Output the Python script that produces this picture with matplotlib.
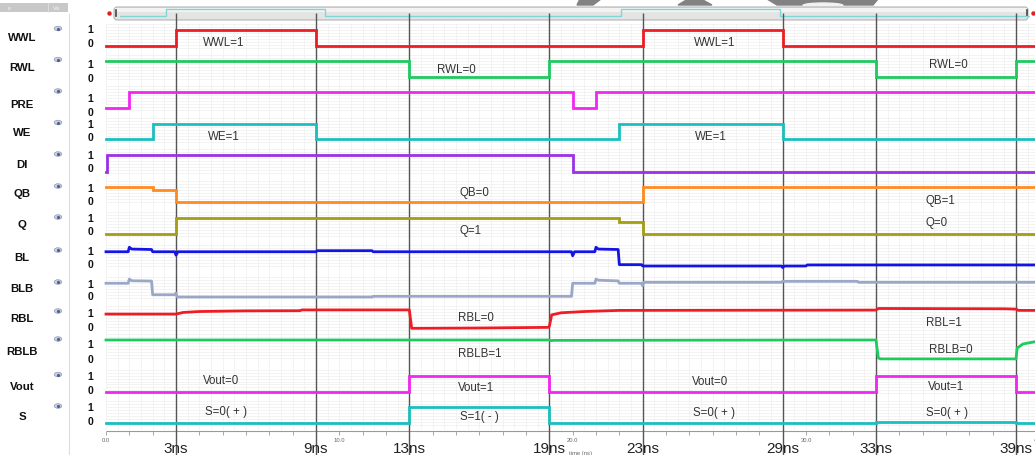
import numpy as np
import matplotlib.pyplot as plt
from matplotlib.patches import Rectangle, FancyBboxPatch, Polygon, Ellipse

plt.rcParams['font.family'] = ['Liberation Sans', 'DejaVu Sans']

# signal names, top to bottom
signals = ['WWL', 'RWL', 'PRE', 'WE', 'DI', 'QB', 'Q', 'BL', 'BLB', 'RBL', 'RBLB', 'Vout', 'S']

# digital waveforms: switching times (ns) and level after each switch
wwl_t = [0, 3, 9, 23, 29]
wwl_v = [0, 1, 0, 1, 0]
rwl_t = [0, 13, 19, 33, 39]
rwl_v = [1, 0, 1, 0, 1]
pre_t = [0, 1, 20, 21]
pre_v = [0, 1, 0, 1]
we_t = [0, 2, 9, 22, 29]
we_v = [0, 1, 0, 1, 0]
di_t = [0, 0.03, 20]
di_v = [0, 1, 0]
qb_t = [0, 2, 3, 23]
qb_v = [1, 0.8, 0, 1]
q_t = [0, 3, 22, 23]
q_v = [0, 1, 0.75, 0]
vout_t = [0, 13, 19, 33, 39]
vout_v = [0, 1, 0, 1, 0]
s_t = [0, 13, 19, 33, 39]
s_v = [0, 1, 0, 0.06, 0]

# analog traces (ns, normalised level)
bl_t = [0, 0.95, 1.0, 1.1, 1.95, 2.0, 2.95, 3.0, 3.08, 9.0, 9.05, 11.4, 11.45, 19.95, 20.0, 20.08,
        20.95, 21.0, 21.1, 21.95, 22.0, 22.95, 23.0, 28.95, 29.0, 29.08, 30.0, 30.05, 39.8]
bl_v = [0.95, 0.95, 1.25, 1.13, 1.1, 0.95, 0.95, 0.72, 0.95, 0.95, 1.02, 1.02, 0.95, 0.95, 0.68, 0.95,
        0.95, 1.25, 1.13, 1.1, 0.09, 0.09, 0.0, 0.0, -0.1, 0.0, 0.0, 0.07, 0.07]
blb_t = [0, 0.95, 1.0, 1.1, 1.95, 2.0, 2.95, 3.0, 3.05, 11.4, 11.45, 19.95, 20.0, 20.95, 21.0, 21.1,
         21.95, 22.0, 22.95, 23.0, 23.05, 28.95, 29.0, 32.2, 32.25, 39.8]
blb_v = [0.98, 0.98, 1.28, 1.16, 1.14, 0.16, 0.16, 0.28, 0.0, 0.0, 0.05, 0.05, 0.98, 0.98, 1.28, 1.2,
         1.15, 0.98, 0.98, 0.8, 1.05, 1.05, 1.12, 1.12, 1.05, 1.05]
rbl_t = [0, 3.0, 3.3, 4.0, 6.0, 8.3, 8.4, 13.0, 13.1, 16.0, 18.95, 19.0, 19.1, 19.5, 20.5, 22.0,
         33.0, 33.1, 38.5, 39.0, 39.1, 39.8]
rbl_v = [0.87, 0.87, 0.97, 1.03, 1.07, 1.08, 1.13, 1.13, -0.02, 0.0, 0.04, 0.1, 0.82, 0.95, 1.03, 1.1,
         1.12, 1.22, 1.2, 1.18, 1.1, 1.1]
rblb_t = [0, 19.0, 19.05, 19.2, 31.0, 33.0, 33.1, 33.2, 39.0, 39.05, 39.3, 39.8]
rblb_v = [1.0, 1.0, 0.96, 0.98, 1.0, 1.0, 0.0, -0.05, -0.05, 0.55, 0.78, 0.9]

waves = [(wwl_t, wwl_v, 'step'), (rwl_t, rwl_v, 'step'), (pre_t, pre_v, 'step'), (we_t, we_v, 'step'),
         (di_t, di_v, 'step'), (qb_t, qb_v, 'step'), (q_t, q_v, 'step'), (bl_t, bl_v, 'line'),
         (blb_t, blb_v, 'line'), (rbl_t, rbl_v, 'line'), (rblb_t, rblb_v, 'line'),
         (vout_t, vout_v, 'step'), (s_t, s_v, 'step')]

colors = ['#ee1c25', '#1ecb5f', '#f126f1', '#1bbfbf', '#9b30e6', '#ff8a1f', '#a39e12',
          '#1414e6', '#9aa7c7', '#ee1c25', '#1ecb5f', '#f126f1', '#1bbfbf']

# cursor times
cursor_t = [3, 9, 13, 19, 23, 29, 33, 39]
cursor_lbl = ['3ns', '9ns', '13ns', '19ns', '23ns', '29ns', '33ns', '39ns']

# state notes
notes = ['WWL=1', 'WWL=1', 'RWL=0', 'RWL=0', 'WE=1', 'WE=1', 'QB=0', 'QB=1', 'Q=1', 'Q=0',
         'RBL=0', 'RBL=1', 'RBLB=1', 'RBLB=0', 'Vout=0', 'Vout=1', 'Vout=0', 'Vout=1',
         'S=0( + )', 'S=1( - )', 'S=0( + )', 'S=0( + )']
note_x = [5.06, 26.1, 15.0, 36.1, 5.06, 25.9, 15.8, 35.75, 15.6, 35.6,
          15.86, 35.9, 16.0, 36.2, 4.93, 15.86, 25.9, 36.0,
          5.14, 16.0, 26.06, 36.05]
note_y = [43, 43, 70, 65, 137, 137, 193, 201, 231, 223,
          318, 323, 354, 350, 381, 388, 382, 387,
          412, 417, 413, 413]

# layout (pixels)
W, H = 1035, 456
x0 = 106
ppn = 910 / 39.0
t_end = (W - x0) / ppn
row_hi = [30.5, 61.5, 93, 124.5, 156, 188, 219, 252, 284, 313, 341, 376.5, 408]
row_lo = [46.5, 78, 109, 140, 172.5, 203, 235, 267, 298, 329, 359, 393, 424]
lab_y = [38, 68, 105, 133, 165, 194, 225, 258, 289, 319, 352, 387, 417]
one_y = [30, 65, 99, 125, 156, 189, 219, 252, 285, 314, 345, 377, 408]
zero_y = [44, 79, 113, 138, 169, 202, 232, 265, 297, 328, 360, 391, 422]

fig = plt.figure(figsize=(W / 100, H / 100), dpi=100)

# decoration layer in pixel units
deco = fig.add_axes([0, 0, 1, 1])
deco.set_xlim(0, W)
deco.set_ylim(H, 0)
deco.axis('off')

# header of the name column
deco.add_patch(Rectangle((0, 4), 68, 9, facecolor='#c8c8c8', edgecolor='none'))
deco.plot([48, 48], [4, 13], color='#e0e0e0', lw=0.6)
deco.text(8, 8.5, 'e', fontsize=4, color='#f2f2f2', va='center')
deco.text(53, 8.5, 'Vis', fontsize=4, color='#f2f2f2', va='center')
deco.plot([69, 69], [15, H], color='#dcdcdc', lw=0.8)

# watermark remnants
deco.add_patch(Polygon([(580, 0), (601, 0), (593, 6), (577, 6)], closed=True, color='#828282'))
deco.add_patch(Polygon([(688, 0), (701, 0), (712, 6), (678, 6)], closed=True, color='#828282'))
deco.add_patch(Polygon([(767, 0), (878, 0), (873, 6), (777, 6)], closed=True, color='#828282'))
deco.add_patch(Ellipse((823, 6.5), 40, 5, color='#f2f2f2'))

# scroll bar
deco.add_patch(FancyBboxPatch((114, 8), 914, 13, boxstyle='round,pad=0,rounding_size=3',
                              facecolor='#e4e4e4', edgecolor='#b4b4b4', lw=0.8))
deco.add_patch(Rectangle((115, 9), 912, 4, facecolor='#f3f3f3', edgecolor='none'))
deco.plot([109], [14], marker='o', ms=2.2, color='#e02020')
deco.plot([116, 116], [11, 17], color='#444444', lw=1.2)
deco.plot([1027, 1027], [11, 17], color='#444444', lw=1.2)
deco.plot([1033], [14], marker='o', ms=2.2, color='#e02020')

# scroll overview of WE
sc = fig.add_axes([120 / W, 1 - 21 / H, 910 / W, 14 / H])
sc.set_xlim(0, 40)
sc.set_ylim(-0.571, 1.43)
sc.axis('off')
sc.step(we_t + [40], we_v + [we_v[-1]], where='post', color='#7fd6d6', lw=1.0)

# main axes: x in ns, y in pixels
ax = fig.add_axes([0, 0, 1, 1])
ax.set_xlim(-x0 / ppn, t_end)
ax.set_ylim(H, 0)
ax.axis('off')
ax.patch.set_alpha(0)

# faint grid
ax.vlines(np.arange(0, 40, 0.5), 24, 430, color='#eeeeee', lw=0.5, zorder=0)
for hi, lo in zip(row_hi, row_lo):
    ax.hlines(np.arange(hi - 6, lo + 3, 3), 0, t_end, color='#efefef', lw=0.5, zorder=0)

# time axis
ax.hlines(432, 0, t_end, color='#9a9a9a', lw=0.8)
ax.vlines(np.arange(0, 40, 1), 432, 436, color='#9a9a9a', lw=0.6)
for v in [0, 10, 20, 30, 40]:
    ax.text(v, 441, f'{v:.1f}', fontsize=4.2, color='#666666', ha='center', va='center')
ax.text(20.35, 454, 'time (ns)', fontsize=4.2, color='#666666', ha='center', va='center')

# cursors
ax.vlines(cursor_t, 14, H, color='#555555', lw=1.0, zorder=2)
for t, s in zip(cursor_t, cursor_lbl):
    ax.text(t, 449, s, fontsize=11, color='#222222', ha='center', va='center')

# notes
for s, x, y in zip(notes, note_x, note_y):
    ax.text(x, y, s, fontsize=8.3, color='#333333', ha='center', va='center', zorder=4)

# left column: names, eye icons, 1/0
for i, name in enumerate(signals):
    deco.text(22, lab_y[i], name, fontsize=8.2, fontweight='bold', color='#111111',
              ha='center', va='center')
    deco.add_patch(Ellipse((58, row_hi[i] - 1), 7.5, 4.5, facecolor='#c9d0e2', edgecolor='#8d98b8', lw=0.5))
    deco.plot([58], [row_hi[i] - 1], marker='o', ms=1.3, color='#55608a')
    deco.text(90, one_y[i], '1', fontsize=7.5, fontweight='bold', color='#111111', ha='center', va='center')
    deco.text(90, zero_y[i], '0', fontsize=7.5, fontweight='bold', color='#111111', ha='center', va='center')

# one small axes per signal row, level 0 at the low line and 1 at the high line
for i, (t, v, kind) in enumerate(waves):
    hi, lo = row_hi[i], row_lo[i]
    span = lo - hi
    pad = 9
    rax = fig.add_axes([0, 1 - (lo + pad) / H, 1, (span + 2 * pad) / H], zorder=3)
    rax.set_xlim(-x0 / ppn, t_end)
    rax.set_ylim(-pad / span, 1 + pad / span)
    rax.axis('off')
    rax.patch.set_alpha(0)
    if kind == 'step':
        rax.step(list(t) + [t_end], list(v) + [v[-1]], where='post', color=colors[i], lw=2.0,
                 solid_joinstyle='miter')
    else:
        rax.plot(t, v, color=colors[i], lw=2.0)

fig.savefig('out.png', dpi=100)
